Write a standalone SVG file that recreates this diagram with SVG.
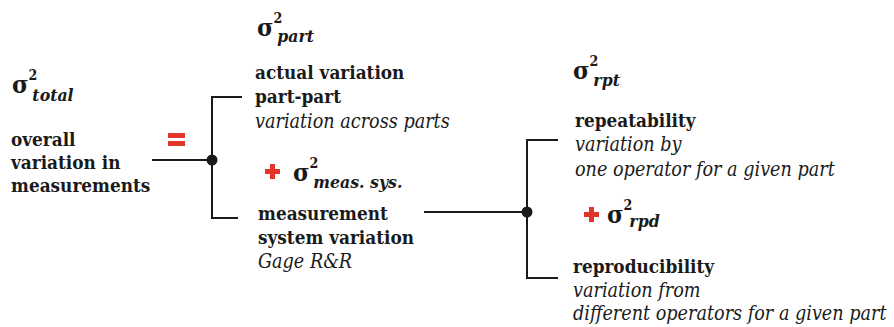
<svg xmlns="http://www.w3.org/2000/svg" width="894" height="327" viewBox="0 0 894 327">
  <style>
    text { font-family: "DejaVu Serif Condensed", "DejaVu Serif", serif; fill: #1a1a1a; font-size: 19px; }
    .b { font-weight: bold; font-size: 18.8px; }
    .i { font-style: italic; font-size: 19.6px; }
    .sig { font-weight: bold; font-size: 25px; }
    .sup { font-weight: bold; font-size: 14px; font-style: normal; }
    .sub { font-weight: bold; font-style: italic; font-size: 17.5px; }
    .wire { fill: none; stroke: #1a1a1a; stroke-width: 2; }
    .op { fill: #e2352a; }
  </style>

  <!-- connectors and junctions -->
  <g id="connectors">
    <path class="wire" d="M152,160 H212 M242,97 H212 V218 H238"/>
    <circle cx="212" cy="160" r="5.5" fill="#1a1a1a"/>
    <path class="wire" d="M424,212 H527 M558,140 H527 V278 H558"/>
    <circle cx="527" cy="212" r="5.5" fill="#1a1a1a"/>
  </g>

  <!-- total variance -->
  <g id="total">
    <text class="sig" x="12" y="93">σ<tspan class="sup" dy="-13">2</tspan><tspan class="sub" dx="-5" dy="21">total</tspan></text>
    <text class="b" x="11" y="146">overall</text>
    <text class="b" x="11" y="169">variation in</text>
    <text class="b" x="11" y="192">measurements</text>
  </g>

  <!-- equals sign -->
  <g id="equals">
    <rect class="op" x="168" y="133" width="17" height="5"/>
    <rect class="op" x="168" y="141" width="17" height="5"/>
  </g>

  <!-- part variance -->
  <g id="part">
    <text class="sig" x="257" y="36">σ<tspan class="sup" dy="-13">2</tspan><tspan class="sub" dx="-5" dy="19">part</tspan></text>
    <text class="b" x="255" y="79">actual variation</text>
    <text class="b" x="255" y="103">part-part</text>
    <text class="i" x="255" y="128">variation across parts</text>
  </g>

  <!-- measurement system variance -->
  <g id="meas">
    <path class="op" d="M265,169 H270 V164 H275 V169 H280 V174 H275 V179 H270 V174 H265 Z"/>
    <text class="sig" x="293" y="181">σ<tspan class="sup" dy="-13">2</tspan><tspan class="sub" dx="-5" dy="20">meas. sys.</tspan></text>
    <text class="b" x="258" y="220">measurement</text>
    <text class="b" x="258" y="244">system variation</text>
    <text class="i" x="258" y="268">Gage R&amp;R</text>
  </g>

  <!-- repeatability -->
  <g id="rpt">
    <text class="sig" x="573" y="79">σ<tspan class="sup" dy="-13">2</tspan><tspan class="sub" dx="-5" dy="20">rpt</tspan></text>
    <text class="b" x="575" y="127">repeatability</text>
    <text class="i" x="575" y="151">variation by</text>
    <text class="i" x="575" y="176">one operator for a given part</text>
  </g>

  <!-- reproducibility -->
  <g id="rpd">
    <path class="op" d="M584,212 H589 V207 H594 V212 H599 V217 H594 V222 H589 V217 H584 Z"/>
    <text class="sig" x="607" y="223">σ<tspan class="sup" dy="-13">2</tspan><tspan class="sub" dx="-3" dy="17">rpd</tspan></text>
    <text class="b" x="573" y="273">reproducibility</text>
    <text class="i" x="573" y="297">variation from</text>
    <text class="i" x="573" y="320">different operators for a given part</text>
  </g>
</svg>
